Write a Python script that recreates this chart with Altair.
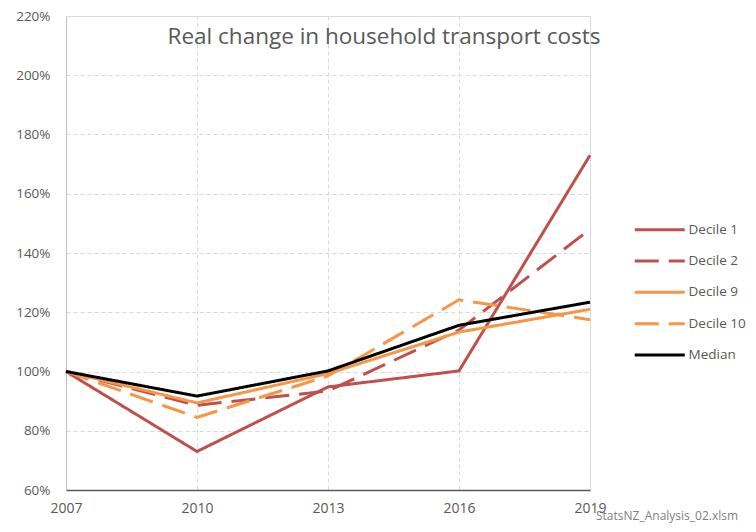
import altair as alt
import pandas as pd

years = [2007, 2010, 2013, 2016, 2019]
series_names = ["Decile 1", "Decile 2", "Decile 9", "Decile 10", "Median"]
decile1 = [1.00, 0.73, 0.948, 1.002, 1.73]
decile2 = [1.00, 0.886, 0.934, 1.14, 1.48]
decile9 = [1.00, 0.894, 0.993, 1.133, 1.21]
decile10 = [1.00, 0.845, 0.985, 1.242, 1.175]
median = [1.00, 0.917, 1.002, 1.156, 1.234]

y_ticks = [0.6, 0.8, 1.0, 1.2, 1.4, 1.6, 1.8, 2.0, 2.2]
colors = ["#C0504D", "#C0504D", "#F79646", "#F79646", "#000000"]
dashes = [[1, 0], [24, 10], [1, 0], [24, 10], [1, 0]]

rows = []
for name, vals in zip(series_names, [decile1, decile2, decile9, decile10, median]):
    for yr, v in zip(years, vals):
        rows.append({"year": yr, "value": v, "series": name,
                     "order": series_names.index(name)})
df = pd.DataFrame(rows)

W, H = 524, 474
FONT = "Open Sans"
GREY = "#595959"

legend_kw = dict(title=None, orient="none", legendX=587, legendY=207,
                 symbolType="M-5,0H5", symbolSize=100, symbolStrokeWidth=3,
                 labelFontSize=13.5, labelColor=GREY, labelFont=FONT,
                 labelOffset=22, rowPadding=16.3)

lines = alt.Chart(df).mark_line(strokeWidth=3, strokeCap="butt", strokeJoin="miter").encode(
    x=alt.X("year:Q",
            scale=alt.Scale(domain=[2007, 2019], nice=False, zero=False),
            axis=alt.Axis(values=years, format="d", title=None, grid=True,
                          gridDash=[4, 3], gridColor="#D9D9D9", ticks=False,
                          domainColor=GREY, domainWidth=1.5, labelFlush=False,
                          labelPadding=11, labelFontSize=14, labelColor=GREY,
                          labelFont=FONT)),
    y=alt.Y("value:Q",
            scale=alt.Scale(domain=[0.6, 2.2], nice=False, zero=False),
            axis=alt.Axis(values=y_ticks, format=".0%", title=None, grid=True,
                          gridDash=[4, 3], gridColor="#D9D9D9", ticks=False,
                          domainColor="#BFBFBF", domainWidth=1, labelFlush=False,
                          labelPadding=16, labelFontSize=13.5, labelColor=GREY,
                          labelFont=FONT)),
    color=alt.Color("series:N",
                    scale=alt.Scale(domain=series_names, range=colors),
                    legend=alt.Legend(**legend_kw)),
    strokeDash=alt.StrokeDash("series:N",
                              scale=alt.Scale(domain=series_names, range=dashes),
                              legend=alt.Legend(**legend_kw)),
    order=alt.Order("order:Q"),
)

title = alt.Chart(pd.DataFrame({"t": ["Real change in household transport costs"]})).mark_text(
    font=FONT, fontSize=22.5, color=GREY, align="center", baseline="middle"
).encode(x=alt.value(318), y=alt.value(21), text="t:N")

foot = alt.Chart(pd.DataFrame({"t": ["StatsNZ_Analysis_02.xlsm"]})).mark_text(
    font=FONT, fontSize=12, color="#7F7F7F", align="left", baseline="middle"
).encode(x=alt.value(530), y=alt.value(500), text="t:N")

chart = alt.layer(lines, title, foot).properties(
    width=W, height=H,
    padding={"left": 58, "top": 8, "right": 740 - 58 - W, "bottom": 516 - 8 - H},
    autosize=alt.AutoSizeParams(type="none"),
).configure_view(stroke=None).configure(background="white")

chart.save("out.html", embed_options={"renderer": "svg", "actions": False})
